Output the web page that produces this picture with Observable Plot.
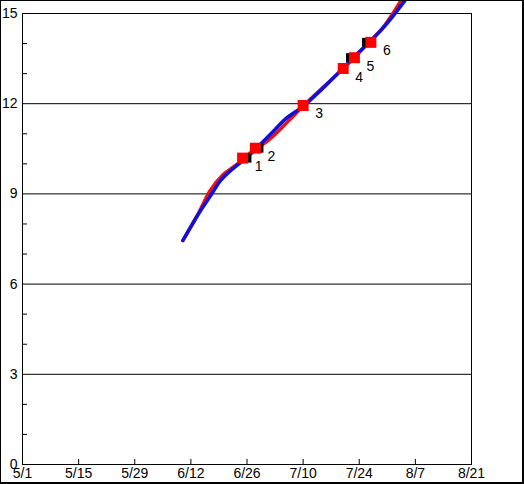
<!DOCTYPE html>
<html>
<head>
<meta charset="utf-8">
<script src="https://cdn.jsdelivr.net/npm/d3@7"></script>
<script src="https://cdn.jsdelivr.net/npm/@observablehq/plot@0.6"></script>
<style>
  html, body { margin: 0; padding: 0; background: #fff; }
  #chart { width: 521px; height: 481px; border-style: solid; border-color: #000; border-width: 1px 2px 2px 1px; overflow: hidden; }
  #chart svg { display: block; }
</style>
</head>
<body>
<div id="chart"></div>
<script>
// x values are days since 5/1
const tickDays = [0, 14, 28, 42, 56, 70, 84, 98, 112];
const tickLabels = ["5/1", "5/15", "5/29", "6/12", "6/26", "7/10", "7/24", "8/7", "8/21"];
const yMajor = [0, 3, 6, 9, 12, 15];
const yGrid = [3, 6, 9, 12];
const yMinor = [1, 2, 4, 5, 7, 8, 10, 11, 13, 14];

const blueDays = [40, 41.9, 44.4, 46.9, 49.4, 51.9, 54.4, 56.9, 59.4, 61.9, 65.5, 70.1, 74.7, 79.7, 84.3, 89.7, 95.4];
const blueVals = [7.45, 7.89, 8.44, 8.94, 9.44, 9.77, 10.05, 10.33, 10.66, 10.99, 11.48, 11.92, 12.48, 13.15, 13.76, 14.48, 15.43];

const redDays = [40, 43.7, 46.7, 50, 52.9, 55, 58, 60.5, 63, 66.3, 70, 74.7, 79.9, 83.1, 86.8, 90.3, 94.4];
const redVals = [7.45, 8.31, 9.09, 9.64, 9.92, 10.15, 10.5, 10.7, 10.98, 11.42, 11.92, 12.51, 13.15, 13.59, 14.09, 14.6, 15.43];

const markLabels = ["1", "2", "3", "4", "5", "6"];
const markDays = [54.9, 58.1, 70, 80, 82.8, 86.9];
const markVals = [10.19, 10.52, 11.94, 13.17, 13.53, 14.04];

const barDays = [56.6, 59.6, 81.2, 85.2];
const barVals = [10.19, 10.52, 13.53, 14.04];

const blue = blueDays.map((d, i) => ({day: d, v: blueVals[i]}));
const red = redDays.map((d, i) => ({day: d, v: redVals[i]}));
const marks = markDays.map((d, i) => ({day: d, v: markVals[i], label: markLabels[i]}));
const bars = barDays.map((d, i) => ({day: d, v: barVals[i]}));

const barSymbol = { draw(context, size) { context.rect(-2, -4.5, 4, 9); } };

const chart = Plot.plot({
  width: 521,
  height: 481,
  marginLeft: 21,
  marginTop: 12,
  marginRight: 51,
  marginBottom: 18,
  style: { fontFamily: "Liberation Sans", fontSize: "14px", color: "#000", background: "#fff", overflow: "visible" },
  x: { domain: [0, 112] },
  y: { domain: [0, 15] },
  marks: [
    Plot.ruleY(yGrid, { stroke: "#000", strokeWidth: 1 }),
    Plot.frame({ stroke: "#000", strokeWidth: 1 }),
    Plot.axisY({ ticks: yMinor, tickSize: -5, text: null, label: null, stroke: "#000" }),
    Plot.axisY({ ticks: yMajor, tickSize: 0, tickPadding: 5, label: null, tickFormat: d => String(d) }),
    Plot.axisX({ ticks: tickDays, tickSize: -5, text: null, label: null, stroke: "#000" }),
    Plot.axisX({ ticks: tickDays, tickSize: 0, tickPadding: 4, label: null, tickFormat: (d) => tickLabels[tickDays.indexOf(d)] }),
    Plot.line(red, { x: "day", y: "v", stroke: "#ee1111", strokeWidth: 3.5, curve: "monotone-x", clip: false }),
    Plot.line(blue, { x: "day", y: "v", stroke: "#1010dd", strokeWidth: 3.5, curve: "monotone-x", clip: false }),
    Plot.dot(bars, { x: "day", y: "v", symbol: barSymbol, fill: "#000", stroke: null }),
    Plot.dot(marks, { x: "day", y: "v", symbol: "square", r: 6.2, fill: "#ff0000", stroke: null }),
    Plot.text(marks, { x: "day", y: "v", text: "label", dx: 16, dy: 8.5, fill: "#000" })
  ]
});
document.getElementById("chart").appendChild(chart);
</script>
</body>
</html>
